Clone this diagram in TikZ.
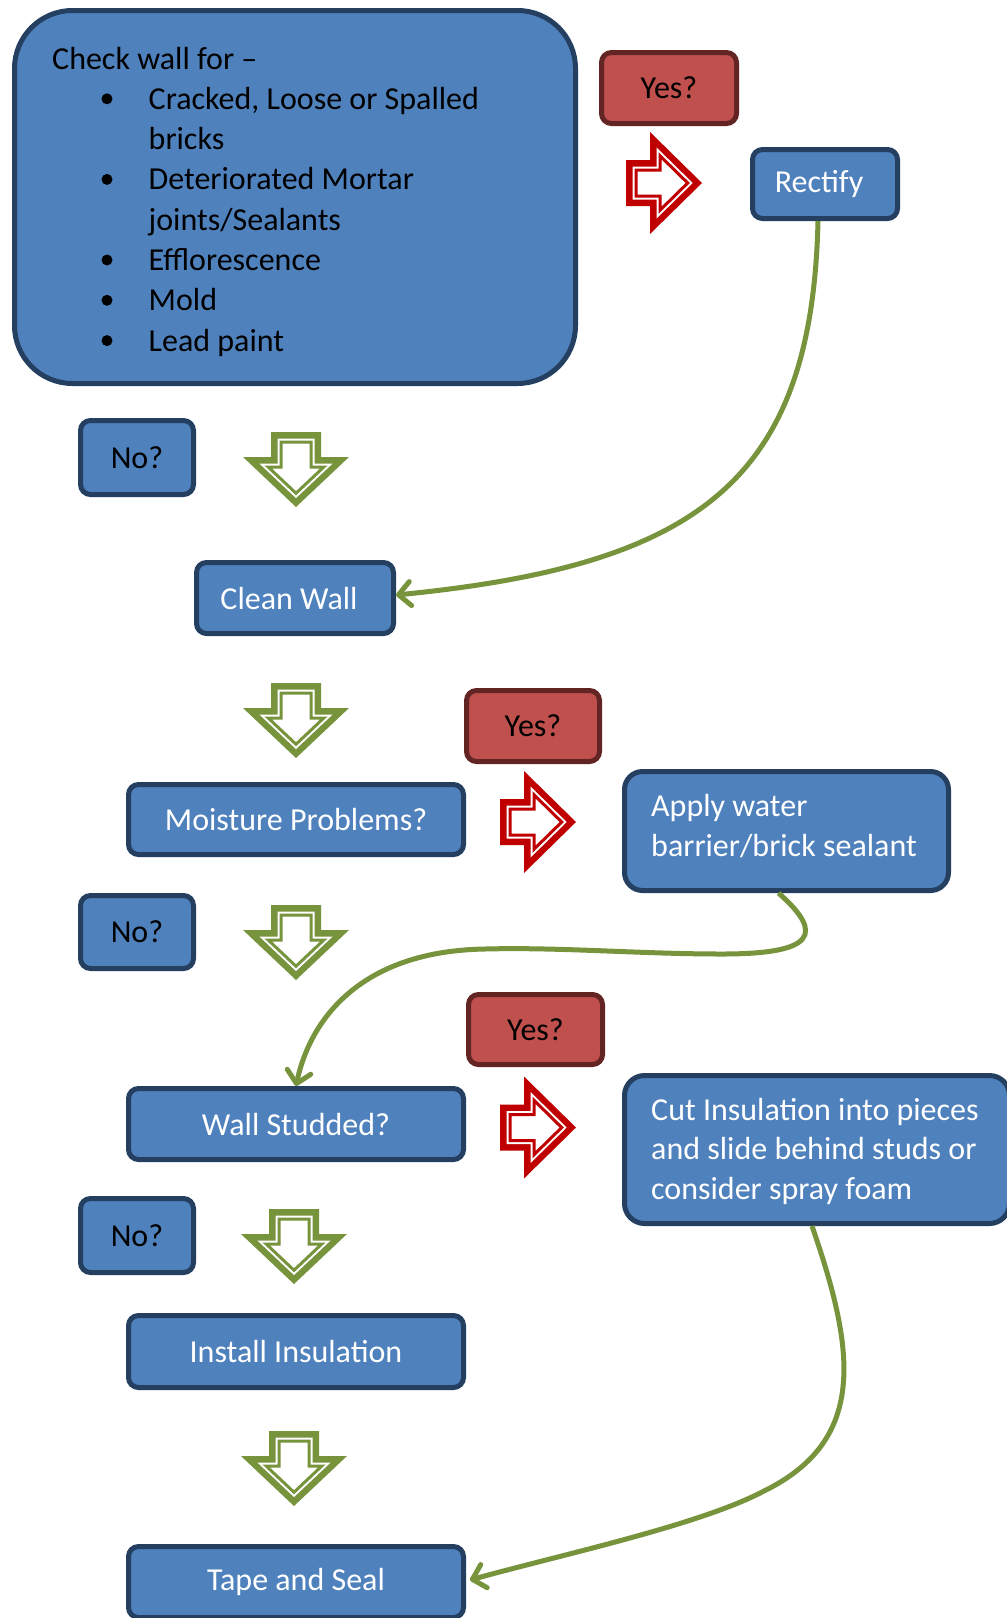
\documentclass[tikz,border=0pt]{standalone}
\usepackage{fontspec}
\setmainfont{Carlito}
\usetikzlibrary{arrows.meta}
\definecolor{boxblue}{HTML}{4F81BD}
\definecolor{bordblue}{HTML}{243F60}
\definecolor{boxred}{HTML}{C0504D}
\definecolor{bordred}{HTML}{632523}
\definecolor{arrred}{HTML}{C00000}
\definecolor{arrgreen}{HTML}{77933C}
\newcommand{\fs}{\fontsize{32}{39.5}\selectfont}
% green block arrow pointing down: #1 = centre x, #2 = top y
\newcommand{\downblock}[2]{%
  \begin{scope}[shift={(#1,#2)}]
    \fill[arrgreen] (-25,0) -- (25,0) -- (25,25) -- (53,25) -- (0,75) -- (-53,25) -- (-25,25) -- cycle;
    \draw[white, fill=white, line width=7pt, line join=miter]
      (-15,10) -- (15,10) -- (15,35) -- (27.8,35) -- (0,61.25) -- (-27.8,35) -- (-15,35) -- cycle;
    \draw[arrgreen, line width=3pt, line join=miter]
      (-15,10) -- (15,10) -- (15,35) -- (27.8,35) -- (0,61.25) -- (-27.8,35) -- (-15,35) -- cycle;
  \end{scope}}
% red block arrow pointing right: #1 = left x, #2 = centre y
\newcommand{\rightblock}[2]{%
  \begin{scope}[shift={(#1,#2)}]
    \fill[arrred] (0,-23) -- (24,-23) -- (24,-51) -- (76,0) -- (24,51) -- (24,23) -- (0,23) -- cycle;
    \draw[white, fill=white, line width=7pt, line join=miter]
      (10,-13) -- (34,-13) -- (34,-27.2) -- (61.7,0) -- (34,27.2) -- (34,13) -- (10,13) -- cycle;
    \draw[arrred, line width=3pt, line join=miter]
      (10,-13) -- (34,-13) -- (34,-27.2) -- (61.7,0) -- (34,27.2) -- (34,13) -- (10,13) -- cycle;
  \end{scope}}
\begin{document}
\begin{tikzpicture}[x=1pt,y=-1pt,
  bbox/.style={draw=bordblue, fill=boxblue, line width=5pt, rounded corners=10pt, inner sep=0pt, font=\fs, text=white},
  nobox/.style={bbox, text=black},
  ybox/.style={draw=bordred, fill=boxred, line width=5pt, rounded corners=10pt, inner sep=0pt, font=\fs, text=black},
  txt/.style={font=\fs, inner sep=0pt, anchor=base west},
  ltxt/.style={font=\fs, inner sep=0pt, anchor=west, align=left, text=white},
  conn/.style={draw=arrgreen, line width=5pt, -{Straight Barb[length=12pt,width=24pt,round]}},
  bul/.style={fill=black}
]
\useasboundingbox (0,0) rectangle (1007,1618);
\clip (0,0) rectangle (1007,1618);
\fill[white] (0,0) rectangle (1007,1618);

% main box
\node[bbox, rounded corners=58pt, minimum width=561pt, minimum height=373pt] (main) at (295,197) {};
\node[txt] (chk) at (52,69) {Check wall for –};
\node[txt] (i1) at (148.5,109.3) {Cracked, Loose or Spalled};
\node[txt] (i1b) at (148.5,149.6) {bricks};
\node[txt] (i2) at (148.5,189.9) {Deteriorated Mortar};
\node[txt] (i2b) at (148.5,230.2) {joints/Sealants};
\node[txt] (i3) at (148.5,270.5) {Efflorescence};
\node[txt] (i4) at (148.5,310.8) {Mold};
\node[txt] (i5) at (148.5,351.1) {Lead paint};
\foreach \yy in {98.8,179.4,260,300.3,340.6}
  \fill[bul] (107,\yy) circle (5.5pt);

% right column top
\node[ybox, minimum width=135pt, minimum height=71pt] (yes1) at (669,88) {Yes?};
\rightblock{626}{183}
\node[bbox, minimum width=145pt, minimum height=69pt] (rectify) at (825,184) {Rectify\hspace*{12pt}};

\node[nobox, minimum width=113pt, minimum height=74pt] (no1) at (137,457.5) {No?};
\downblock{296}{432}
\node[bbox, minimum width=197pt, minimum height=71pt] (cleanwall) at (295,598) {Clean Wall\hspace*{12pt}};

\downblock{296}{683}
\node[ybox, minimum width=133pt, minimum height=71pt] (yes2) at (533,726) {Yes?};
\node[bbox, minimum width=335pt, minimum height=70pt] (moist) at (296,819.5) {Moisture Problems?};
\rightblock{500}{822}
\node[bbox, rounded corners=18pt, minimum width=324pt, minimum height=119pt] (apply) at (786.5,831) {};
\node[ltxt] (applyt) at (651,826) {Apply water\\barrier/brick sealant};

\node[nobox, minimum width=113pt, minimum height=73pt] (no2) at (137,932) {No?};
\downblock{296}{905}

\node[ybox, minimum width=134pt, minimum height=70pt] (yes3) at (535.5,1029.5) {Yes?};
\node[bbox, minimum width=335pt, minimum height=71pt] (wallstud) at (296,1124) {Wall Studded?};
\rightblock{500}{1127.5}
\node[bbox, rounded corners=20pt, minimum width=385pt, minimum height=148pt] (cut) at (817,1149.5) {};
\node[ltxt] (cutt) at (651,1151) {Cut Insulation into pieces\\and slide behind studs or\\consider spray foam};

\node[nobox, minimum width=113pt, minimum height=74pt] (no3) at (137,1235.5) {No?};
\downblock{294}{1209}
\node[bbox, minimum width=335pt, minimum height=72pt] (install) at (296,1351.5) {Install Insulation};
\downblock{294}{1431}
\node[bbox, minimum width=335pt, minimum height=71pt] (tape) at (296,1582) {Tape and Seal};

% connectors
\draw[conn] ([xshift=-7pt]rectify.south) .. controls (812,480) and (700,565) .. ([yshift=3pt]cleanwall.east);
\draw[conn] ([xshift=-8pt]apply.south) .. controls (825,934) and (815,954) .. (722,954)
   .. controls (640,954) and (560,947) .. (485,949)
   .. controls (360,951) and (310,1020) .. (wallstud.north);
\draw[conn] ([xshift=-5pt]cut.south) .. controls (855,1350) and (868,1440) .. (764,1491)
   .. controls (700,1525) and (560,1555) .. ([xshift=4pt,yshift=2pt]tape.east);
\end{tikzpicture}
\end{document}
